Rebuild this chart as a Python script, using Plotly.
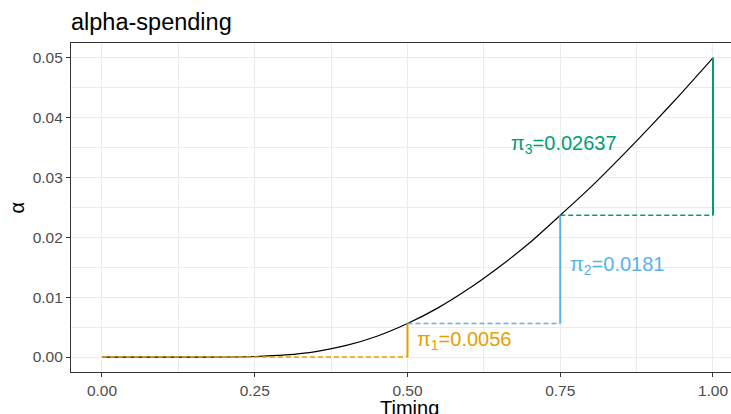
import plotly.graph_objects as go

# Cumulative alpha-spending curve (information fraction vs. spent alpha)
timing = [0.0, 0.05, 0.10, 0.15, 0.20, 0.25, 0.30, 0.35, 0.40, 0.45, 0.50,
          0.55, 0.60, 0.65, 0.70, 0.75, 0.80, 0.85, 0.90, 0.95, 1.00]
alpha_spent = [0.0, 0.0, 0.0, 0.0, 0.00001, 0.00009, 0.00035, 0.00092, 0.00194,
               0.00348, 0.0056, 0.00822, 0.0114, 0.01506, 0.0191, 0.0237,
               0.0284, 0.0335, 0.0388, 0.0443, 0.05]

# Interim analyses and the alpha spent at each look
looks = [0.5, 0.75, 1.0]
pi_values = [0.0056, 0.0181, 0.02637]
pi_text = ["0.0056", "0.0181", "0.02637"]
look_colors = ["#E69F00", "#56B4E9", "#009E73"]

# label anchor positions (x in timing units, y in alpha units)
label_x = [0.513, 0.762, 0.847]
label_y = [0.00284, 0.01538, 0.0356]
label_anchor = ["left", "left", "right"]

FONT = "Liberation Sans, Arial, sans-serif"

fig = go.Figure()

# black spending curve
fig.add_trace(go.Scatter(
    x=timing, y=alpha_spent, mode="lines",
    line=dict(color="black", width=1.2, shape="spline", smoothing=0.6),
    hoverinfo="skip", showlegend=False))

prev_t = 0.0
prev_a = 0.0
for i, (t, p, c) in enumerate(zip(looks, pi_values, look_colors)):
    cum = prev_a + p
    # dashed step from the previous look
    fig.add_trace(go.Scatter(
        x=[prev_t, t], y=[prev_a, prev_a], mode="lines",
        line=dict(color=c, width=1.5, dash="5px,3px"),
        hoverinfo="skip", showlegend=False))
    # solid rise at the current look
    fig.add_trace(go.Scatter(
        x=[t, t], y=[prev_a, cum], mode="lines",
        line=dict(color=c, width=2),
        hoverinfo="skip", showlegend=False))
    fig.add_annotation(
        x=label_x[i], y=label_y[i], xref="x", yref="y",
        text=f"π<sub>{i + 1}</sub>={pi_text[i]}",
        showarrow=False, xanchor=label_anchor[i], yanchor="middle",
        font=dict(family=FONT, size=20, color=c))
    prev_t, prev_a = t, cum

# axis titles placed as annotations
fig.add_annotation(
    text="Timing", xref="paper", yref="paper", x=0.5136, y=-0.11,
    xanchor="center", yanchor="middle", showarrow=False,
    font=dict(family=FONT, size=20, color="black"))
fig.add_annotation(
    text="α", xref="paper", yref="paper", x=-0.0833, y=0.5,
    xanchor="center", yanchor="middle", showarrow=False, textangle=-90,
    font=dict(family=FONT, size=20, color="black"))

grid_major = "#EBEBEB"
fig.update_layout(
    width=731, height=414,
    margin=dict(l=71, r=0, t=43, b=42),
    paper_bgcolor="white", plot_bgcolor="white",
    font=dict(family=FONT, color="black"),
    title=dict(text="alpha-spending", x=0, xref="paper", xanchor="left",
               y=1 - 22 / 414, yref="container", yanchor="middle",
               font=dict(family=FONT, size=23.5, color="black")),
    xaxis=dict(
        range=[-0.0507, 1.0295],
        tickvals=[0, 0.25, 0.5, 0.75, 1.0],
        ticktext=["0.00", "0.25", "0.50", "0.75", "1.00"],
        ticks="outside", ticklen=4, tickcolor="#333333", tickwidth=1,
        tickfont=dict(family=FONT, size=15.5, color="#4D4D4D"),
        showgrid=True, gridcolor=grid_major, gridwidth=1.1,
        minor=dict(tickvals=[0.125, 0.375, 0.625, 0.875], showgrid=True,
                   gridcolor=grid_major, gridwidth=0.6, ticks=""),
        showline=True, linecolor="#333333", linewidth=1.1, mirror=True,
        zeroline=False,
    ),
    yaxis=dict(
        range=[-0.0025, 0.0525],
        tickvals=[0, 0.01, 0.02, 0.03, 0.04, 0.05],
        ticktext=["0.00", "0.01", "0.02", "0.03", "0.04", "0.05"],
        ticks="outside", ticklen=4, tickcolor="#333333", tickwidth=1,
        tickfont=dict(family=FONT, size=15.5, color="#4D4D4D"),
        showgrid=True, gridcolor=grid_major, gridwidth=1.1,
        minor=dict(tickvals=[0.005, 0.015, 0.025, 0.035, 0.045], showgrid=True,
                   gridcolor=grid_major, gridwidth=0.6, ticks=""),
        showline=True, linecolor="#333333", linewidth=1.1,
        zeroline=False,
    ),
)

fig.write_html("out.html")
